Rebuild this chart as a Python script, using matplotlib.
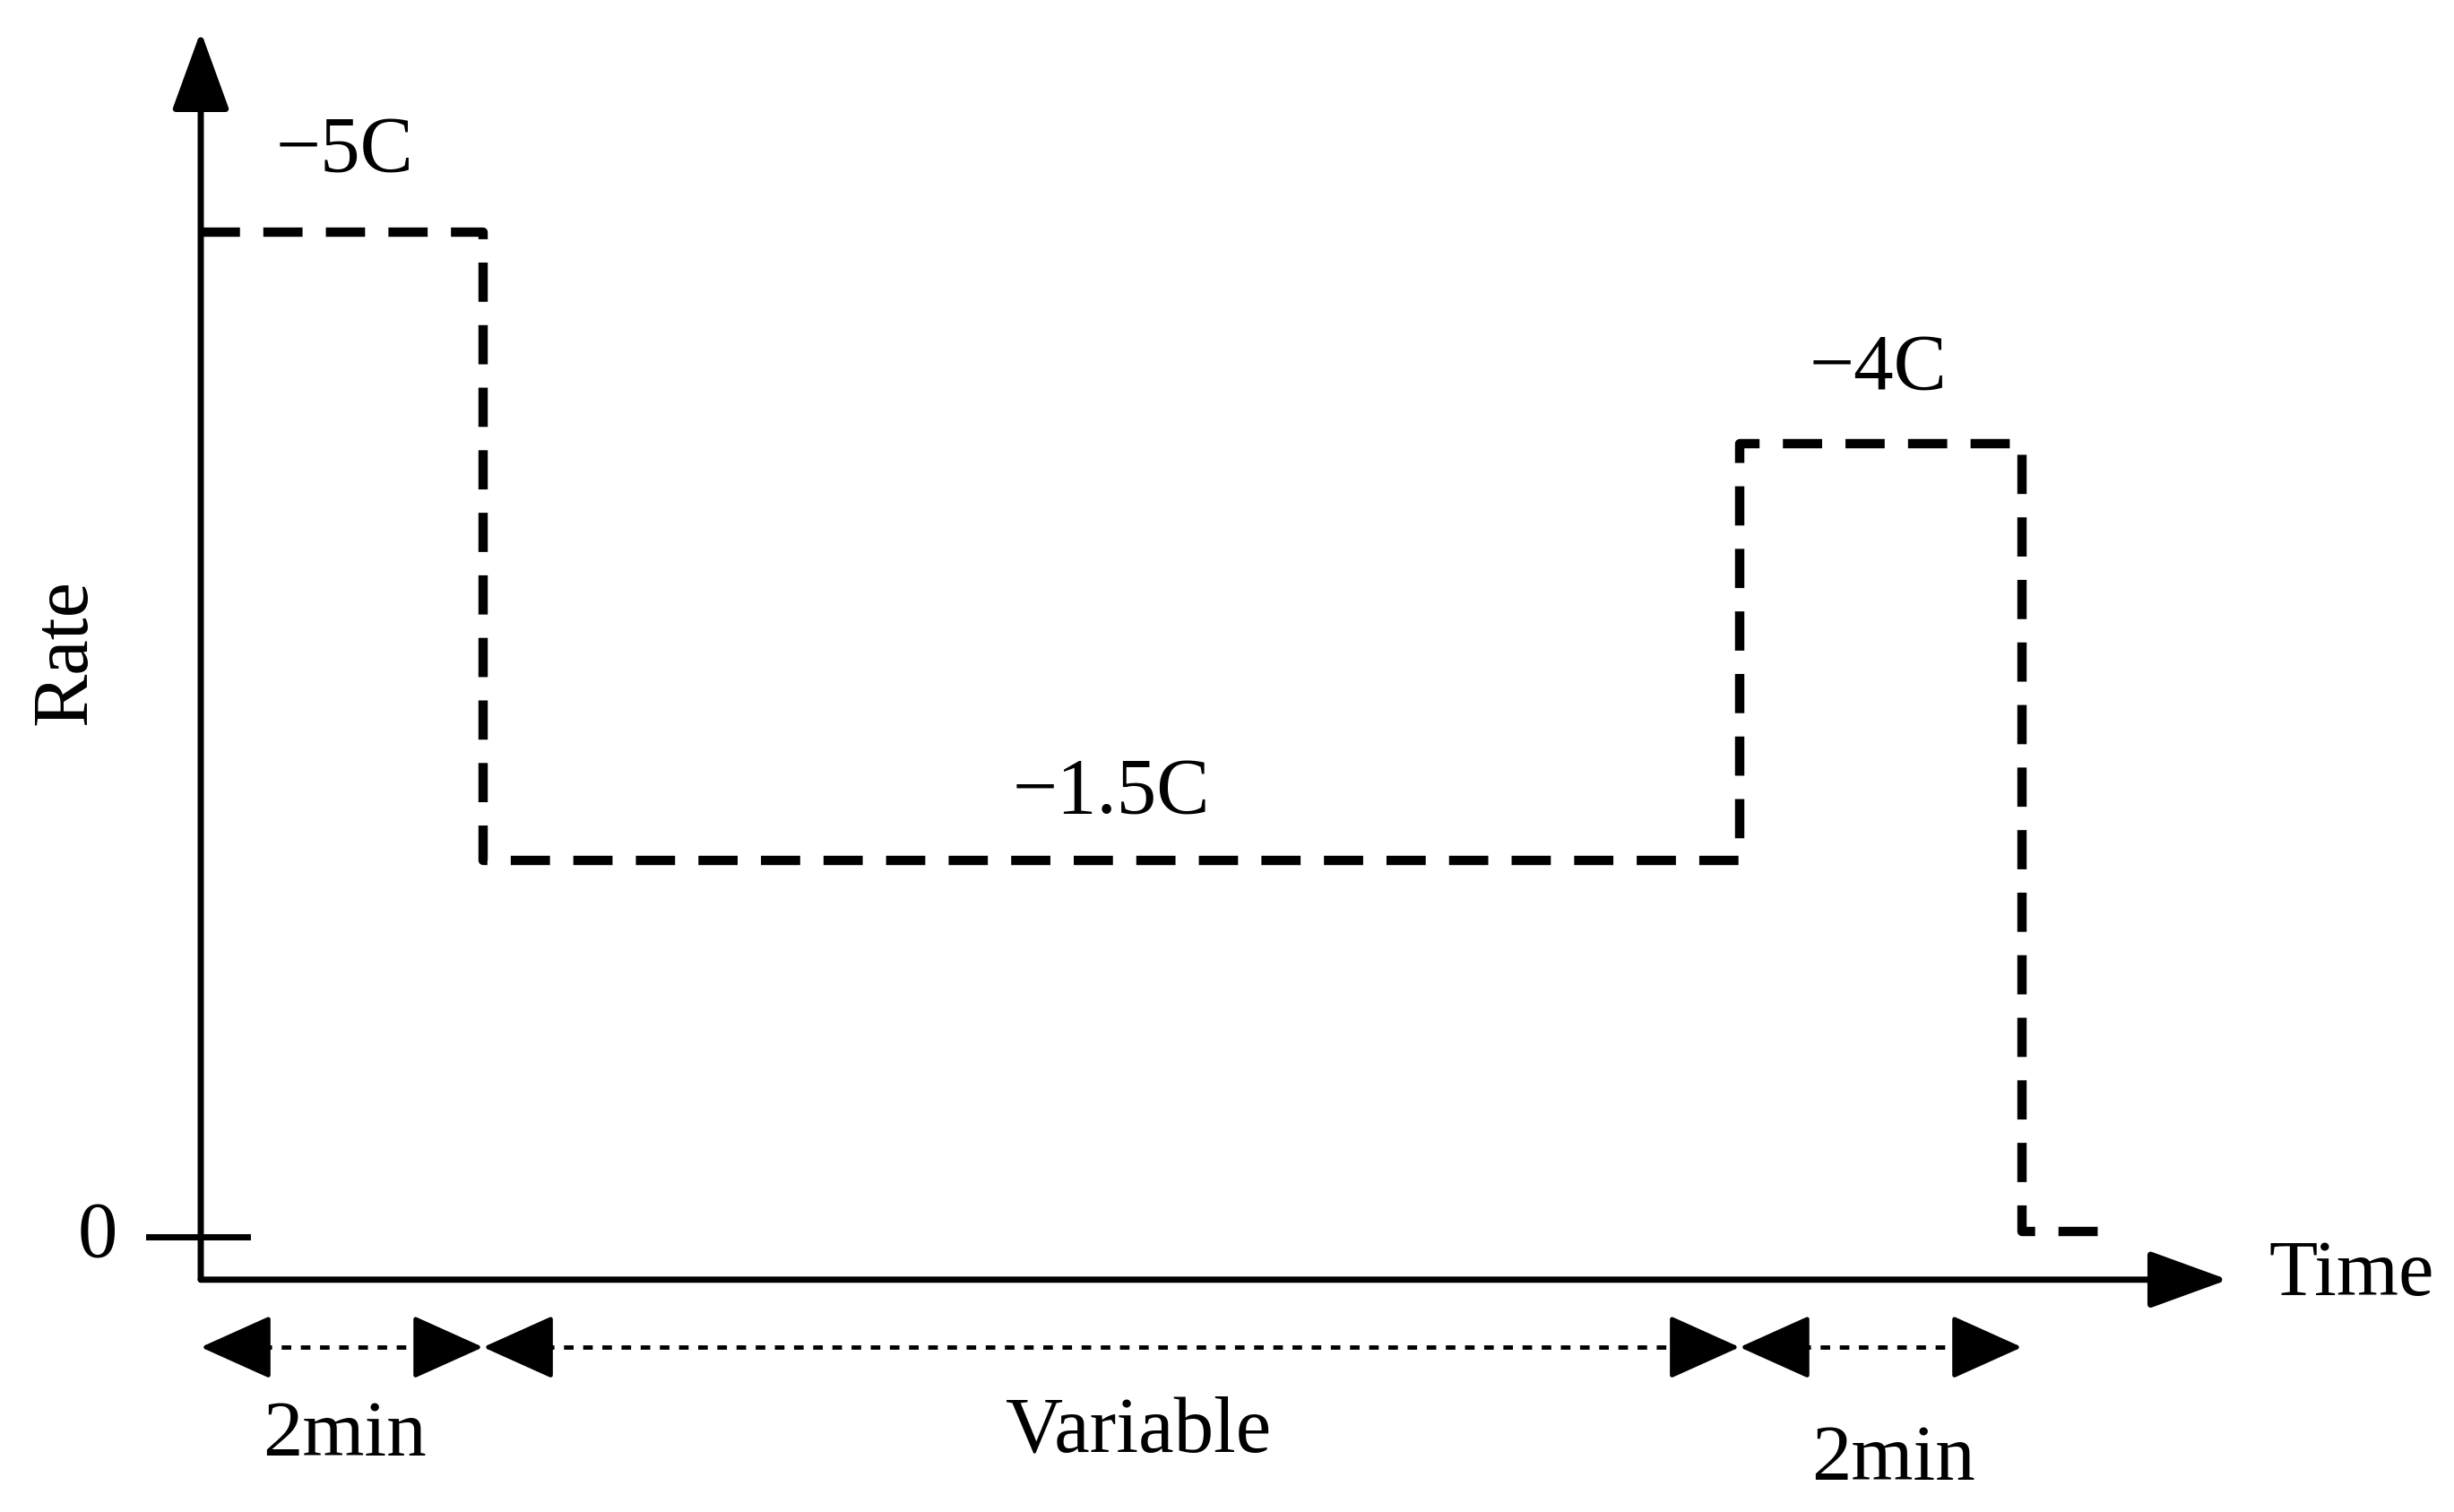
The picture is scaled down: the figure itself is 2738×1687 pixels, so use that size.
import matplotlib.pyplot as plt

# schematic charge profile (time in min, rate in plot units)
phase_minutes = [2, 8.9, 2, 0.7]
phase_rates = [5.0, 1.875, 3.95, 0.03]
phase_labels = ["\u22125C", "\u22121.5C", "\u22124C"]
span_labels = ["2min", "Variable", "2min"]

plt.rcParams["font.family"] = ["Liberation Serif", "DejaVu Serif"]

fig = plt.figure(figsize=(27.38, 16.87), dpi=100)
ax = fig.add_axes([0, 0, 1, 1])
ax.set_xlim(-1.422, 15.96)
ax.set_ylim(-1.367, 6.156)
ax.axis("off")

edges = [0]
for m in phase_minutes:
    edges.append(edges[-1] + m)
rates = phase_rates + [phase_rates[-1]]
ax.step(edges, rates, where="post", color="k", lw=7.5, ls=(0, (4.2, 2.5)))

# axes with arrows
ax_y = -0.211
axis_arrow = dict(arrowstyle="-|>,head_length=1.1,head_width=0.4",
                  lw=5, color="k", shrinkA=0, shrinkB=0, mutation_scale=50)
ax.annotate("", xy=(0, 6.0), xytext=(0, ax_y), arrowprops=axis_arrow)
ax.annotate("", xy=(14.36, ax_y), xytext=(0, ax_y), arrowprops=axis_arrow)
ax.plot([-0.37, 0.33], [0, 0], color="k", lw=5)

fs = 64
ax.text(-0.73, 0, "0", fontsize=fs, ha="center", va="center")
ax.text(-0.95, 2.91, "Rate", fontsize=fs, ha="center", va="center", rotation=90)
ax.text(14.65, -0.19, "Time", fontsize=fs, ha="left", va="center")

label_pos = [(1.02, 5.40), (6.45, 2.21), (11.88, 4.32)]
for (x, y), s in zip(label_pos, phase_labels):
    ax.text(x, y, s, fontsize=fs, ha="center", va="center")

# dimension arrows
dim_y = -0.547
span_x = [1.02, 6.64, 11.99]
span_y = [-0.99, -0.97, -1.11]
dim_head = dict(arrowstyle="-|>,head_length=1.0,head_width=0.45",
                lw=3.5, color="k", shrinkA=0, shrinkB=0, mutation_scale=50)
for i, s in enumerate(span_labels):
    x0, x1 = edges[i], edges[i + 1]
    ax.plot([x0 + 0.3, x1 - 0.3], [dim_y, dim_y], color="k", lw=3.5, ls=(0, (2.2, 2.2)))
    for a, b in ((x0 + 0.45, x0), (x1 - 0.45, x1)):
        ax.annotate("", xy=(b, dim_y), xytext=(a, dim_y), arrowprops=dim_head)
    ax.text(span_x[i], span_y[i], s, fontsize=fs, ha="center", va="center")

fig.savefig("out.png", dpi=100)
